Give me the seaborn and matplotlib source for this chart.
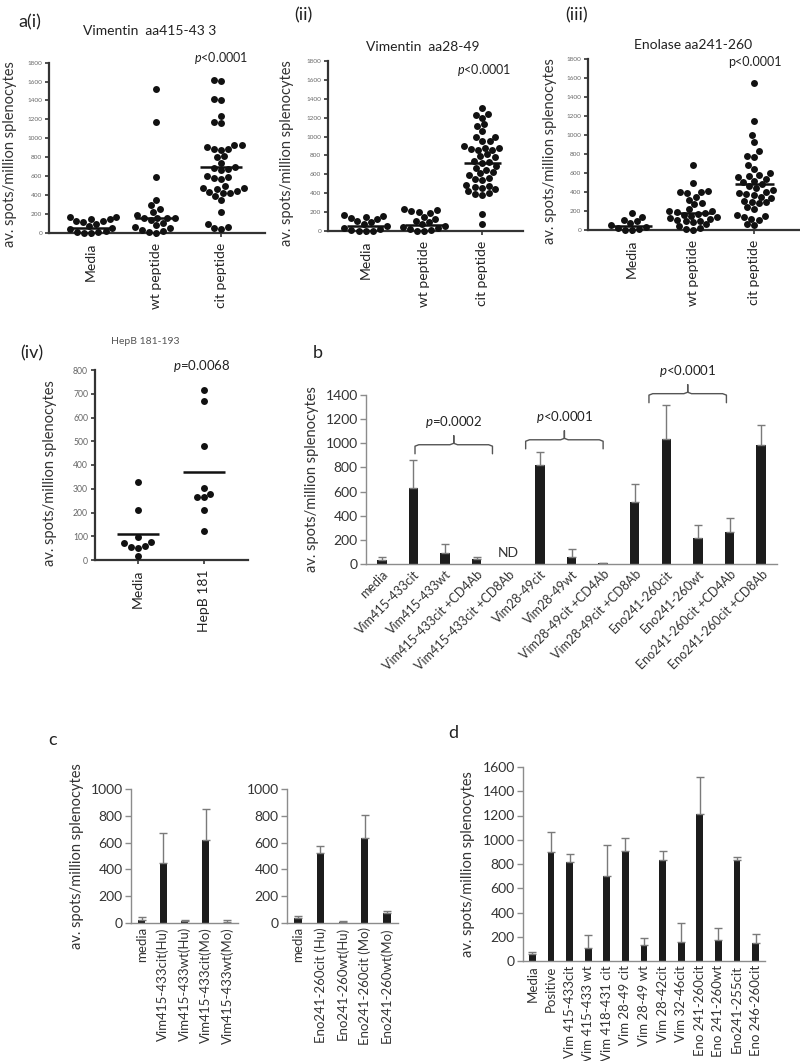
import numpy as np
import pandas as pd
import matplotlib
matplotlib.use("Agg")
import matplotlib.pyplot as plt
import seaborn as sns

sns.set_theme(style="white")
plt.rcParams["font.family"] = ["Lato", "DejaVu Sans"]
plt.rcParams["mathtext.fontset"] = "custom"
plt.rcParams["mathtext.rm"] = "Lato"
plt.rcParams["mathtext.it"] = "Lato:italic"

# ---------------- data ----------------
a_cats = ["Media", "wt peptide", "cit peptide"]

a1_media = [165, 150, 120, 120, 140, 170, 110, 90, 70, 50, 35, 20, 10, 5, 0, 0]
a1_wt = [1520, 1170, 590, 350, 290, 250, 220, 190, 160, 160, 160, 160, 130, 100, 80,
         60, 45, 30, 15, 5, 0]
a1_cit = [1620, 1610, 1420, 1400, 1240, 1170, 1160, 930, 930, 910, 890, 890, 880, 810, 800,
          740, 700, 680, 670, 660, 600, 590, 580, 570, 490, 470, 470, 460, 440, 430, 420, 420,
          390, 350, 220, 90, 60, 50, 40]
a1_means = [55, 155, 700]

a2_media = [170, 160, 150, 140, 125, 110, 90, 70, 50, 35, 20, 10, 5, 0, 0]
a2_wt = [230, 220, 210, 200, 195, 150, 130, 110, 90, 70, 55, 40, 30, 20, 10, 5, 0]
a2_cit = [1300, 1240, 1230, 1200, 1130, 1110, 1060, 1000, 990, 950, 950, 900, 880, 880, 870, 860,
          860, 810, 790, 780, 740, 730, 720, 690, 670, 650, 620, 610, 590, 560, 550, 540, 490,
          480, 470, 460, 440, 420, 400, 390, 380, 180, 70]
a2_means = [50, 65, 720]

a3_media = [180, 140, 110, 90, 70, 50, 35, 20, 10, 0, 0]
a3_wt = [680, 490, 410, 400, 400, 390, 350, 320, 280, 270, 220, 200, 200, 190, 180, 170, 160,
         150, 140, 130, 120, 110, 100, 90, 80, 60, 40, 20, 10, 0]
a3_cit = [1550, 1150, 1000, 930, 830, 780, 770, 680, 640, 600, 580, 570, 560, 540, 520, 510, 480,
          460, 440, 420, 400, 390, 380, 370, 350, 340, 310, 300, 290, 280, 240, 220, 160, 150,
          140, 120, 110, 60, 50]
a3_means = [40, 175, 480]

iv_cats = ["Media", "HepB 181"]
iv_media = [330, 210, 75, 55, 70, 95, 50, 60, 15]
iv_hepb = [715, 670, 478, 305, 280, 265, 265, 210, 123]
iv_means = [108, 370]

b_cats = ["media", "Vim415-433cit", "Vim415-433wt", "Vim415-433cit +CD4Ab",
          "Vim415-433cit +CD8Ab", "Vim28-49cit", "Vim28-49wt", "Vim28-49cit +CD4Ab",
          "Vim28-49cit +CD8Ab", "Eno241-260cit", "Eno241-260wt", "Eno241-260cit +CD4Ab",
          "Eno241-260cit +CD8Ab"]
b_vals = [30, 630, 90, 42, np.nan, 820, 60, 5, 510, 1035, 212, 265, 985]
b_err = [25, 235, 72, 13, np.nan, 108, 65, 7, 152, 285, 110, 120, 167]
b_brackets = [(1.05, 3.5, 988, r"$p$=0.0002"),
              (4.55, 7.0, 1029, r"$p$<0.0001"),
              (8.45, 10.9, 1411, r"$p$<0.0001")]

c1_cats = ["media", "Vim415-433cit(Hu)", "Vim415-433wt(Hu)", "Vim415-433cit(Mo)",
           "Vim415-433wt(Mo)"]
c1_vals = [25, 450, 15, 620, 10]
c1_err = [20, 225, 10, 230, 10]
c2_cats = ["media", "Eno241-260cit (Hu)", "Eno241-260wt(Hu)", "Eno241-260cit (Mo)",
           "Eno241-260wt(Mo)"]
c2_vals = [35, 525, 8, 635, 75]
c2_err = [15, 53, 4, 170, 15]

d_cats = ["Media", "Positive", "Vim 415-433cit", "Vim 415-433 wt", "Vim 418-431 cit",
          "Vim 28-49 cit", "Vim 28-49 wt", "Vim 28-42cit", "Vim 32-46cit", "Eno 241-260cit",
          "Eno 241-260wt", "Eno241-255cit", "Eno 246-260cit"]
d_vals = [60, 895, 815, 110, 700, 910, 130, 830, 160, 1210, 175, 835, 145]
d_err = [18, 170, 65, 105, 260, 105, 58, 80, 150, 310, 95, 23, 77]

YLAB = "av. spots/million splenocytes"

# ---------------- figure ----------------
W, H = 800, 1061
fig = plt.figure(figsize=(W / 100, H / 100), dpi=100)


def add_ax(l, t, r, b):
    return fig.add_axes([l / W, 1 - b / H, (r - l) / W, (b - t) / H])


def ftext(x, y, s, **kw):
    fig.text(x / W, 1 - y / H, s, **kw)


def swarm_panel(ax, groups, cats, means, ymax, ystep, xlim, tick_fs, ylab_x, lab_fs=10):
    df = pd.DataFrame({"group": np.repeat(cats, [len(g) for g in groups]),
                       "value": np.concatenate([np.asarray(g, float) for g in groups])})
    sns.swarmplot(data=df, x="group", y="value", order=cats, ax=ax, color="#111111",
                  size=5.0, linewidth=0, warn_thresh=1)
    for coll in ax.collections:
        coll.set_clip_on(False)
    pos = np.arange(len(cats))
    ax.hlines(means, pos - 0.32, pos + 0.32, color="#111111", lw=1.8, zorder=5)
    ax.set_xlim(*xlim)
    ax.set_ylim(0, ymax)
    ax.set_yticks(np.arange(0, ymax + 1, ystep))
    ax.tick_params(axis="y", labelsize=tick_fs, labelcolor="#666666", length=3, width=1.2,
                   color="#333333", direction="out", left=True, pad=2)
    ax.tick_params(axis="x", labelsize=lab_fs, length=3, width=1.2, color="#333333",
                   direction="out", bottom=True, labelcolor="#222222", pad=4)
    for lbl in ax.get_xticklabels():
        lbl.set_rotation(90)
    for s in ["top", "right"]:
        ax.spines[s].set_visible(False)
    for s in ["left", "bottom"]:
        ax.spines[s].set_color("#333333")
        ax.spines[s].set_linewidth(1.6)
    ax.set_xlabel("")
    ax.set_ylabel(YLAB, fontsize=10.5, color="#333333")
    ax.yaxis.set_label_coords(ylab_x, 0.46)
    ax.set_facecolor("none")


def bar_panel(ax, cats, vals, errs, ymax, width, rot, lab_fs, ylab_x=None):
    df = pd.DataFrame({"cat": cats, "val": vals})
    sns.barplot(data=df, x="cat", y="val", order=cats, ax=ax, color="#1c1c1c",
                saturation=1, width=width, errorbar=None, edgecolor="none")
    pos = np.arange(len(cats))
    v = np.asarray(vals, float)
    e = np.asarray(errs, float)
    ok = ~np.isnan(v)
    ax.errorbar(pos[ok], v[ok], yerr=[np.zeros(ok.sum()), e[ok]], fmt="none",
                ecolor="#7a7a7a", elinewidth=1, capsize=3, capthick=1)
    ax.set_xlim(-0.5, len(cats) - 0.5)
    ax.set_ylim(0, ymax)
    ax.set_yticks(np.arange(0, ymax + 1, 200))
    ax.tick_params(axis="y", labelsize=10, labelcolor="#333333", length=4, width=1,
                   color="#8c8c8c", direction="out", left=True, pad=2)
    ax.tick_params(axis="x", labelsize=lab_fs, labelcolor="#333333", length=0, pad=3)
    for lbl in ax.get_xticklabels():
        if rot == 45:
            lbl.set_rotation(45)
            lbl.set_ha("right")
            lbl.set_rotation_mode("anchor")
        else:
            lbl.set_rotation(90)
    for s in ["top", "right"]:
        ax.spines[s].set_visible(False)
    for s in ["left", "bottom"]:
        ax.spines[s].set_color("#8c8c8c")
        ax.spines[s].set_linewidth(1)
    ax.set_xlabel("")
    if ylab_x is None:
        ax.set_ylabel("")
    else:
        ax.set_ylabel(YLAB, fontsize=10.5, color="#333333")
        ax.yaxis.set_label_coords(ylab_x, 0.5)
    ax.set_facecolor("none")


# ---- a(i)
ax1 = add_ax(49, 62.7, 265, 232.7)
swarm_panel(ax1, [a1_media, a1_wt, a1_cit], a_cats, a1_means, 1800, 200, (-0.65, 2.68),
            4.6, -0.148)
ftext(18, 22, "a(i)", fontsize=13, color="#222222", va="center")
ftext(150, 31, "Vimentin  aa415-43 3", fontsize=10, color="#222222", ha="center", va="center")
ftext(221, 58, r"$p$<0.0001", fontsize=9, color="#222222", ha="center", va="center")

# ---- a(ii)
ax2 = add_ax(328, 61, 523, 231)
swarm_panel(ax2, [a2_media, a2_wt, a2_cit], a_cats, a2_means, 1800, 200, (-0.65, 2.7),
            4.6, -0.174)
ftext(303, 15, "(ii)", fontsize=13, color="#222222", ha="center", va="center")
ftext(423, 47, "Vimentin  aa28-49", fontsize=10, color="#222222", ha="center", va="center")
ftext(484, 70, r"$p$<0.0001", fontsize=9, color="#222222", ha="center", va="center")

# ---- a(iii)
ax3 = add_ax(588, 59, 799, 230)
swarm_panel(ax3, [a3_media, a3_wt, a3_cit], a_cats, a3_means, 1800, 200, (-0.72, 2.73),
            4.6, -0.146)
ftext(577, 15, "(iii)", fontsize=13, color="#222222", ha="center", va="center")
ftext(693, 45, "Enolase aa241-260", fontsize=10, color="#222222", ha="center", va="center")
ftext(755, 62, "p<0.0001", fontsize=9, color="#222222", ha="center", va="center")

# ---- iv
ax4 = add_ax(95, 370, 248, 560)
swarm_panel(ax4, [iv_media, iv_hepb], iv_cats, iv_means, 800, 100, (-0.65, 1.67),
            6.2, -0.248)
ftext(32, 353, "(iv)", fontsize=13, color="#222222", ha="center", va="center")
ftext(145, 342, "HepB 181-193", fontsize=7.5, color="#555555", ha="center", va="center")
ftext(202, 366, r"$p$=0.0068", fontsize=9.5, color="#222222", ha="center", va="center")

# ---- b
axb = add_ax(366, 395, 777, 564)
bar_panel(axb, b_cats, b_vals, b_err, 1400, 0.3, 45, 9, ylab_x=-0.114)
axb.text(4, 90, "ND", ha="center", va="center", fontsize=10, color="#333333")
for x0, x1, yh, txt in b_brackets:
    xc = (x0 + x1) / 2
    dy = 75
    r = 0.12
    xs = [x0, x0, x0 + r, xc - r, xc, xc, xc, xc + r, x1 - r, x1, x1]
    ys = [yh - dy, yh - 12, yh, yh, yh + 12, yh + dy, yh + 12, yh, yh, yh - 12, yh - dy]
    axb.plot(xs, ys, color="#555555", lw=1, clip_on=False)
    axb.text(xc, yh + 190, txt, ha="center", va="center", fontsize=9.5, color="#222222",
             clip_on=False)
ftext(318, 353, "b", fontsize=13, color="#222222", ha="center", va="center")

# ---- c
axc1 = add_ax(131, 789, 238, 923)
bar_panel(axc1, c1_cats, c1_vals, c1_err, 1000, 0.33, 90, 9.5, ylab_x=-0.44)
axc2 = add_ax(287, 789, 398, 923)
bar_panel(axc2, c2_cats, c2_vals, c2_err, 1000, 0.33, 90, 9.5)
ftext(53, 740, "c", fontsize=13, color="#222222", ha="center", va="center")

# ---- d
axd = add_ax(523, 767, 765, 961)
bar_panel(axd, d_cats, d_vals, d_err, 1600, 0.36, 90, 9.5, ylab_x=-0.198)
ftext(453, 733, "d", fontsize=13, color="#222222", ha="center", va="center")

fig.savefig("out.png", dpi=100, facecolor="white")
